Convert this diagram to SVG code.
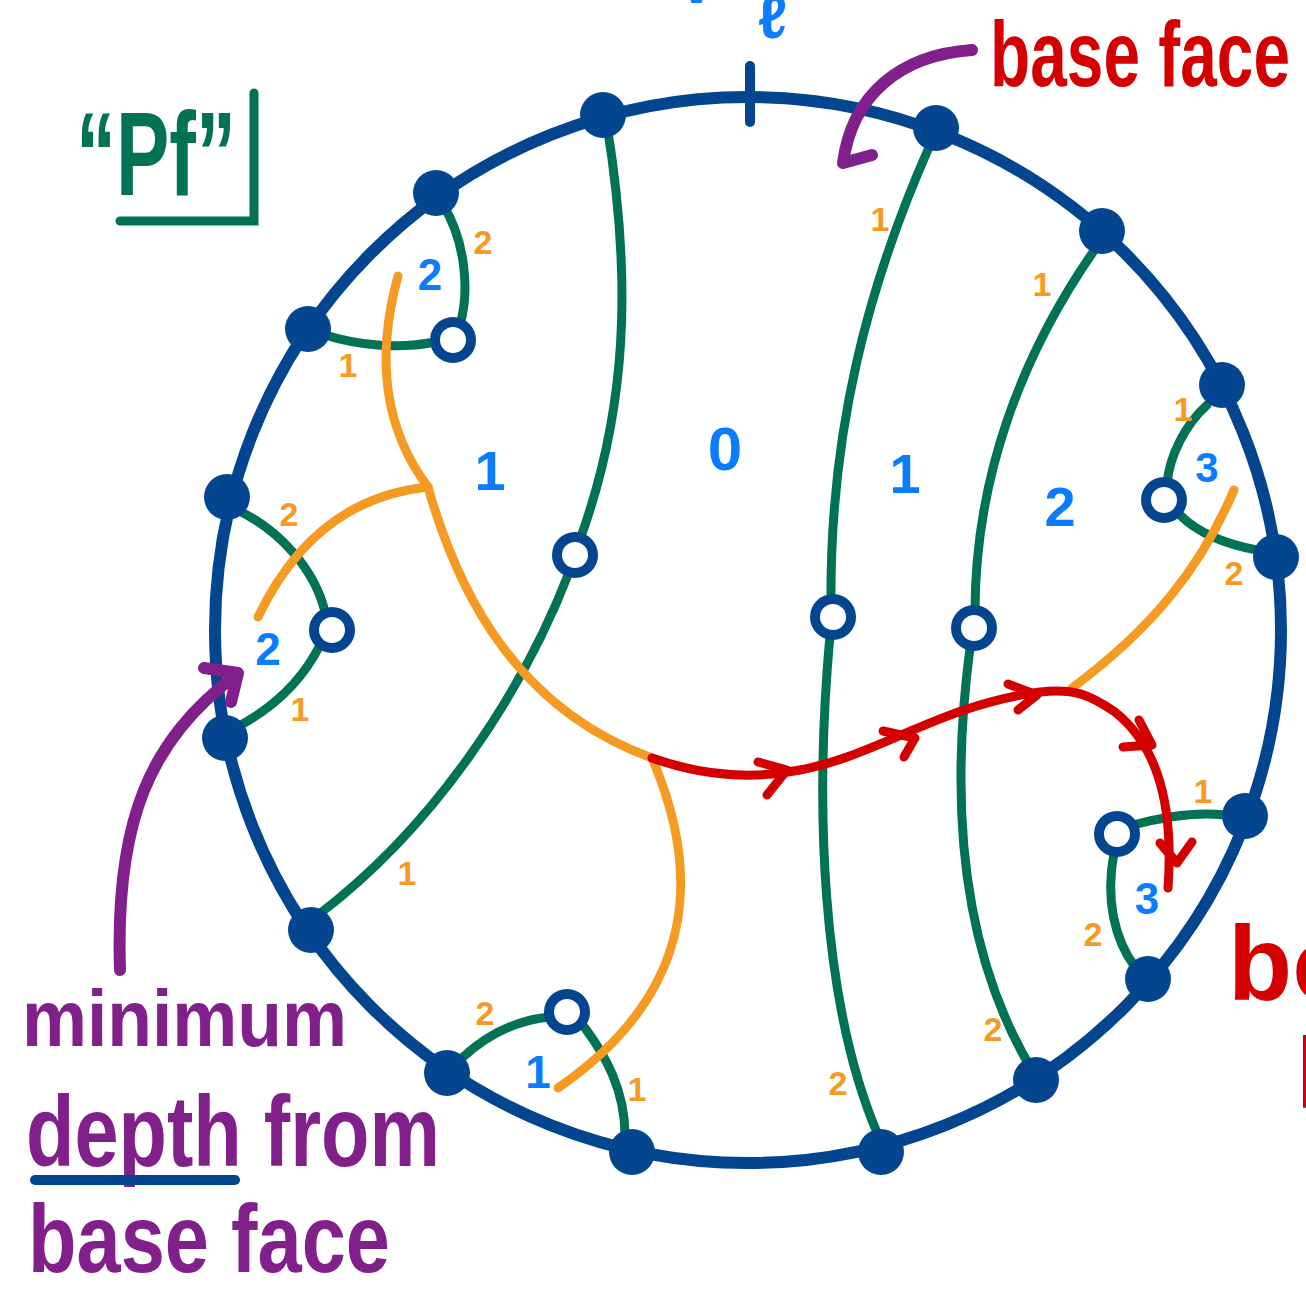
<svg xmlns="http://www.w3.org/2000/svg" width="1306" height="1289" viewBox="0 0 1306 1289">
<style>
.ring{fill:none;stroke:#03468f;stroke-width:12}
.v{fill:#03468f}
.h{fill:#fff;stroke:#03468f;stroke-width:10}
.g{fill:none;stroke:#017354;stroke-width:9;stroke-linecap:round}
.o{fill:none;stroke:#f59b23;stroke-width:9;stroke-linecap:round}
.r{fill:none;stroke:#d40000;stroke-width:9;stroke-linecap:round;stroke-linejoin:round}
.p{fill:none;stroke:#82208b;stroke-width:12;stroke-linecap:round;stroke-linejoin:round}
.bl{fill:none;stroke:#03468f;stroke-width:10;stroke-linecap:round}
.lb{font-family:"Liberation Sans","DejaVu Sans",sans-serif;font-weight:bold;fill:#0a7cff;text-anchor:middle}
.on{font-family:"Liberation Sans","DejaVu Sans",sans-serif;font-weight:bold;fill:#f59b23;font-size:34px;text-anchor:middle}
.hw{font-family:"Liberation Sans","DejaVu Sans",sans-serif;font-weight:bold}
</style>
<rect width="1306" height="1289" fill="#fff"/>

<g id="annotations">
  <text class="hw" x="76" y="195" font-size="118" fill="#017354" textLength="160" lengthAdjust="spacingAndGlyphs">“Pf”</text>
  <path class="g" d="M254,93 L254,221 L120,221" stroke-width="10"/>
  <text class="hw" x="990" y="86" font-size="92" fill="#d40000" textLength="300" lengthAdjust="spacingAndGlyphs">base face</text>
  <text class="hw" x="22" y="1046" font-size="80" fill="#82208b" textLength="325" lengthAdjust="spacingAndGlyphs">minimum</text>
  <text class="hw" x="26" y="1166" font-size="100" fill="#82208b" textLength="414" lengthAdjust="spacingAndGlyphs">depth from</text>
  <text class="hw" x="28" y="1272" font-size="96" fill="#82208b" textLength="362" lengthAdjust="spacingAndGlyphs">base face</text>
  <path class="bl" d="M35,1180 L235,1180"/>
  <text class="hw" x="1228" y="1000" font-size="105" fill="#d40000">bo</text>
  <text class="hw" x="1296" y="1108" font-size="100" fill="#d40000">l</text>
  <text class="hw" x="680" y="3" font-size="60" fill="#0a7cff">v</text>
  <text class="hw" x="758" y="38" font-size="60" fill="#0a7cff">ℓ</text>
  <path class="bl" d="M750,66 L750,122"/>
</g>

<g id="boundary">
  <circle class="ring" cx="748" cy="630" r="533"/>
</g>

<g id="connectors">
  <path class="g" d="M607,125 C632,280 628,410 578,545"/>
  <path class="g" d="M570,570 C520,700 430,830 318,915"/>
  <path class="g" d="M930,145 C868,285 830,430 831,600"/>
  <path class="g" d="M830,635 C815,800 820,1000 878,1135"/>
  <path class="g" d="M1098,245 C1020,355 975,480 975,612"/>
  <path class="g" d="M970,648 C950,800 960,950 1032,1070"/>
  <path class="g" d="M443,205 C465,240 470,290 460,325"/>
  <path class="g" d="M325,335 C360,346 400,349 435,342"/>
  <path class="g" d="M237,510 C280,530 315,570 325,612"/>
  <path class="g" d="M320,645 C300,685 270,710 235,728"/>
  <path class="g" d="M1207,405 C1185,425 1170,455 1167,483"/>
  <path class="g" d="M1180,515 C1200,535 1230,545 1257,550"/>
  <path class="g" d="M1133,825 C1170,815 1200,812 1225,815"/>
  <path class="g" d="M1114,853 C1105,900 1115,940 1135,967"/>
  <path class="g" d="M462,1058 C490,1032 520,1020 549,1017"/>
  <path class="g" d="M585,1028 C605,1055 625,1090 625,1135"/>

  <path class="o" d="M398,276 C375,360 385,430 428,487"/>
  <path class="o" d="M258,617 C295,540 350,495 428,487"/>
  <path class="o" d="M428,487 C460,600 520,710 652,758"/>
  <path class="o" d="M652,758 C700,870 700,990 558,1088"/>
  <path class="o" d="M1072,688 C1150,630 1200,570 1234,490"/>

  <path class="r" d="M652,758 C700,775 750,780 800,770 C880,755 940,705 1040,692 C1075,688 1090,695 1115,712 C1150,740 1175,790 1168,888"/>
  <path class="r" d="M758,762 L787,770 L767,795"/>
  <path class="r" d="M883,731 L915,738 L904,757"/>
  <path class="r" d="M1008,684 L1037,695 L1018,710"/>
  <path class="r" d="M1123,747 L1152,745 L1139,720"/>
  <path class="r" d="M1160,843 L1177,863 L1192,842"/>

  <path class="p" d="M972,50 C900,55 852,95 843,163 L872,155"/>
  <path class="p" d="M120,970 C115,820 150,740 236,675"/>
  <path class="p" d="M204,668 L238,673 L231,702"/>
</g>

<g id="vertices">
  <circle id="n1" class="v" cx="603" cy="115" r="23"/>
  <circle id="n2" class="v" cx="936" cy="128" r="23"/>
  <circle id="n3" class="v" cx="1102" cy="231" r="23"/>
  <circle id="n4" class="v" cx="1222" cy="385" r="23"/>
  <circle id="n5" class="v" cx="1276" cy="557" r="23"/>
  <circle id="n6" class="v" cx="1245" cy="816" r="23"/>
  <circle id="n7" class="v" cx="1148" cy="979" r="23"/>
  <circle id="n8" class="v" cx="1036" cy="1080" r="23"/>
  <circle id="n9" class="v" cx="881" cy="1152" r="23"/>
  <circle id="n10" class="v" cx="632" cy="1152" r="23"/>
  <circle id="n11" class="v" cx="447" cy="1073" r="23"/>
  <circle id="n12" class="v" cx="311" cy="930" r="23"/>
  <circle id="n13" class="v" cx="225" cy="738" r="23"/>
  <circle id="n14" class="v" cx="227" cy="497" r="23"/>
  <circle id="n15" class="v" cx="308" cy="329" r="23"/>
  <circle id="n16" class="v" cx="436" cy="193" r="23"/>
  <circle id="h1" class="h" cx="453" cy="340" r="18"/>
  <circle id="h2" class="h" cx="332" cy="630" r="18"/>
  <circle id="h3" class="h" cx="575" cy="555" r="18"/>
  <circle id="h4" class="h" cx="833" cy="617" r="18"/>
  <circle id="h5" class="h" cx="974" cy="628" r="18"/>
  <circle id="h6" class="h" cx="1164" cy="500" r="18"/>
  <circle id="h7" class="h" cx="1117" cy="834" r="18"/>
  <circle id="h8" class="h" cx="567" cy="1012" r="18"/>
</g>

<g id="face-labels">
  <text class="lb" x="725" y="470" font-size="62">0</text>
  <text class="lb" x="490" y="490" font-size="56">1</text>
  <text class="lb" x="905" y="493" font-size="56">1</text>
  <text class="lb" x="1060" y="526" font-size="56">2</text>
  <text class="lb" x="430" y="290" font-size="44">2</text>
  <text class="lb" x="268" y="665" font-size="46">2</text>
  <text class="lb" x="1207" y="482" font-size="42">3</text>
  <text class="lb" x="1147" y="914" font-size="44">3</text>
  <text class="lb" x="538" y="1088" font-size="46">1</text>
</g>

<g id="edge-labels">
  <text class="on" x="483" y="254">2</text>
  <text class="on" x="348" y="377">1</text>
  <text class="on" x="289" y="526">2</text>
  <text class="on" x="300" y="721">1</text>
  <text class="on" x="880" y="231">1</text>
  <text class="on" x="1042" y="296">1</text>
  <text class="on" x="1183" y="421">1</text>
  <text class="on" x="1234" y="585">2</text>
  <text class="on" x="1203" y="803">1</text>
  <text class="on" x="1093" y="946">2</text>
  <text class="on" x="993" y="1041">2</text>
  <text class="on" x="838" y="1095">2</text>
  <text class="on" x="637" y="1101">1</text>
  <text class="on" x="485" y="1025">2</text>
  <text class="on" x="407" y="885">1</text>
</g>
</svg>
